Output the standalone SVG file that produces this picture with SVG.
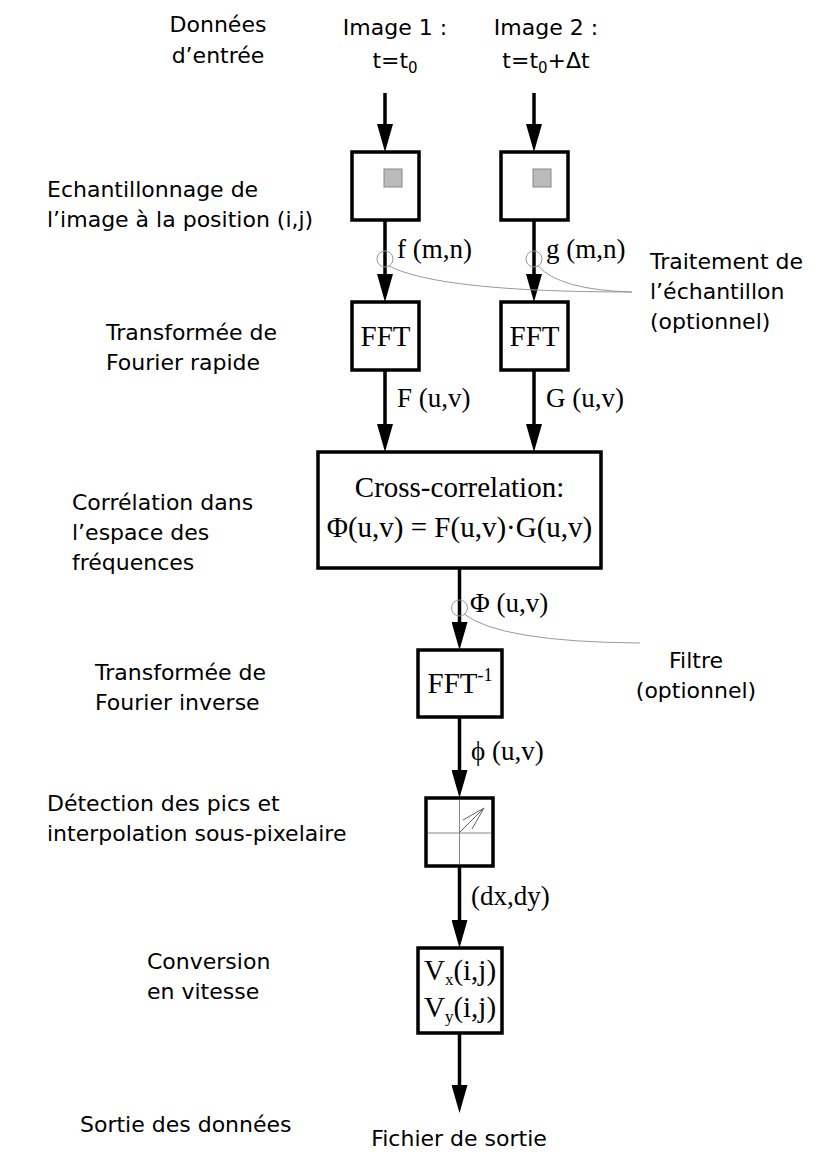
<svg xmlns="http://www.w3.org/2000/svg" width="827" height="1155" viewBox="0 0 827 1155">
<style>
.lbl{font-family:"DejaVu Sans","Liberation Sans",sans-serif;font-size:22px;fill:#000}
.ser{font-family:"Liberation Serif","Times New Roman",serif;font-size:27px;fill:#000}
.box{fill:#fff;stroke:#000;stroke-width:3.5}
.bt{font-family:"Liberation Serif","Times New Roman",serif;font-size:29px;fill:#000;text-anchor:middle}
.conn{stroke:#000;stroke-width:3.5;fill:none;marker-end:url(#ah)}
.thin{stroke:#999;stroke-width:1;fill:none}
.grid{stroke:#888;stroke-width:1}
</style>
<defs>
<marker id="ah" markerUnits="userSpaceOnUse" markerWidth="28" markerHeight="16" viewBox="0 0 28 16" refX="18" refY="8" orient="auto">
<path d="M0,0 L28,8 L0,16 z" fill="#000"/>
</marker>
</defs>
<rect width="827" height="1155" fill="#fff"/>

<g id="labels-left">
<text class="lbl" x="218" y="32" text-anchor="middle">Données</text>
<text class="lbl" x="218" y="63" text-anchor="middle">d’entrée</text>
<text class="lbl" x="47" y="197">Echantillonnage de</text>
<text class="lbl" x="47" y="227">l’image à la position (i,j)</text>
<text class="lbl" x="106" y="340">Transformée de</text>
<text class="lbl" x="106" y="370">Fourier rapide</text>
<text class="lbl" x="72" y="510">Corrélation dans</text>
<text class="lbl" x="72" y="540">l’espace des</text>
<text class="lbl" x="72" y="570">fréquences</text>
<text class="lbl" x="95" y="680">Transformée de</text>
<text class="lbl" x="95" y="710">Fourier inverse</text>
<text class="lbl" x="47" y="811">Détection des pics et</text>
<text class="lbl" x="47" y="841">interpolation sous-pixelaire</text>
<text class="lbl" x="147" y="969">Conversion</text>
<text class="lbl" x="147" y="999">en vitesse</text>
<text class="lbl" x="80" y="1132">Sortie des données</text>
</g>

<g id="input1">
<text class="lbl" x="395" y="35" text-anchor="middle">Image 1 :</text>
<text class="lbl" x="395" y="68" text-anchor="middle">t=t<tspan font-size="15" dy="5">0</tspan></text>
</g>
<g id="input2">
<text class="lbl" x="546" y="35" text-anchor="middle">Image 2 :</text>
<text class="lbl" x="546" y="68" text-anchor="middle">t=t<tspan font-size="15" dy="5">0</tspan><tspan dy="-5">+Δt</tspan></text>
</g>

<g id="sample1">
<rect class="box" x="352" y="152" width="67" height="68"/>
<rect x="384" y="169" width="18" height="18" fill="#bbb" stroke="#888" stroke-width="1"/>
</g>
<g id="sample2">
<rect class="box" x="501" y="152" width="67" height="68"/>
<rect x="533" y="169" width="18" height="18" fill="#bbb" stroke="#888" stroke-width="1"/>
</g>

<g id="fft1">
<rect class="box" x="352" y="302" width="67" height="68"/>
<text class="bt" x="385.5" y="346">FFT</text>
</g>
<g id="fft2">
<rect class="box" x="501" y="302" width="67" height="68"/>
<text class="bt" x="534.5" y="346">FFT</text>
</g>

<g id="crosscorr">
<rect class="box" x="318" y="452" width="283" height="116"/>
<text class="bt" x="459.5" y="497">Cross-correlation:</text>
<text class="bt" x="459.5" y="537">Φ(u,v) = F(u,v)·G(u,v)</text>
</g>

<g id="ifft">
<rect class="box" x="418" y="650" width="84" height="67"/>
<text class="bt" x="460" y="693">FFT<tspan font-size="18" dy="-12">-1</tspan></text>
</g>

<g id="peak">
<rect class="box" x="426" y="798" width="67" height="68"/>
<line class="grid" x1="459.5" y1="800" x2="459.5" y2="864"/>
<line class="grid" x1="428" y1="833" x2="491" y2="833"/>
<path d="M459,833 L484,808 M484,808 L463,820 M484,808 L472,829" stroke="#666" stroke-width="1" fill="none"/>
</g>

<g id="velocity">
<rect class="box" x="418" y="948" width="84" height="85"/>
<text class="bt" x="460" y="980" font-size="27">V<tspan font-size="17" dy="5">x</tspan><tspan dy="-5">(i,j)</tspan></text>
<text class="bt" x="460" y="1017" font-size="27">V<tspan font-size="17" dy="5">y</tspan><tspan dy="-5">(i,j)</tspan></text>
</g>

<g id="output">
<text class="lbl" x="459" y="1146" text-anchor="middle">Fichier de sortie</text>
</g>

<g id="opt-sample">
<text class="lbl" x="650" y="269">Traitement de</text>
<text class="lbl" x="650" y="299">l’échantillon</text>
<text class="lbl" x="650" y="329">(optionnel)</text>
</g>
<g id="opt-filter">
<text class="lbl" x="696" y="668" text-anchor="middle">Filtre</text>
<text class="lbl" x="696" y="698" text-anchor="middle">(optionnel)</text>
</g>

<g id="connectors">
<line class="conn" x1="385" y1="93" x2="385" y2="142"/>
<line class="conn" x1="534" y1="93" x2="534" y2="142"/>
<line class="conn" x1="385" y1="220" x2="385" y2="292"/>
<line class="conn" x1="534" y1="220" x2="534" y2="292"/>
<line class="conn" x1="385" y1="370" x2="385" y2="442"/>
<line class="conn" x1="534" y1="370" x2="534" y2="442"/>
<line class="conn" x1="459.5" y1="568" x2="459.5" y2="640"/>
<line class="conn" x1="459.5" y1="717" x2="459.5" y2="788"/>
<line class="conn" x1="459.5" y1="866" x2="459.5" y2="938"/>
<line class="conn" x1="459.5" y1="1033" x2="459.5" y2="1103"/>
<circle class="thin" cx="385" cy="259" r="8"/>
<circle class="thin" cx="534" cy="259" r="8"/>
<circle class="thin" cx="459.5" cy="608" r="8"/>
<path class="thin" d="M389,266 Q440,292 632,292"/>
<path class="thin" d="M538,266 Q560,290 632,292"/>
<path class="thin" d="M464,614 Q500,642 640,643"/>
<text class="ser" x="397" y="258">f (m,n)</text>
<text class="ser" x="546" y="258">g (m,n)</text>
<text class="ser" x="397" y="407">F (u,v)</text>
<text class="ser" x="546" y="407">G (u,v)</text>
<text class="ser" x="470" y="612">Φ (u,v)</text>
<text class="ser" x="471" y="760">ϕ (u,v)</text>
<text class="ser" x="471" y="905">(dx,dy)</text>
</g>
</svg>
